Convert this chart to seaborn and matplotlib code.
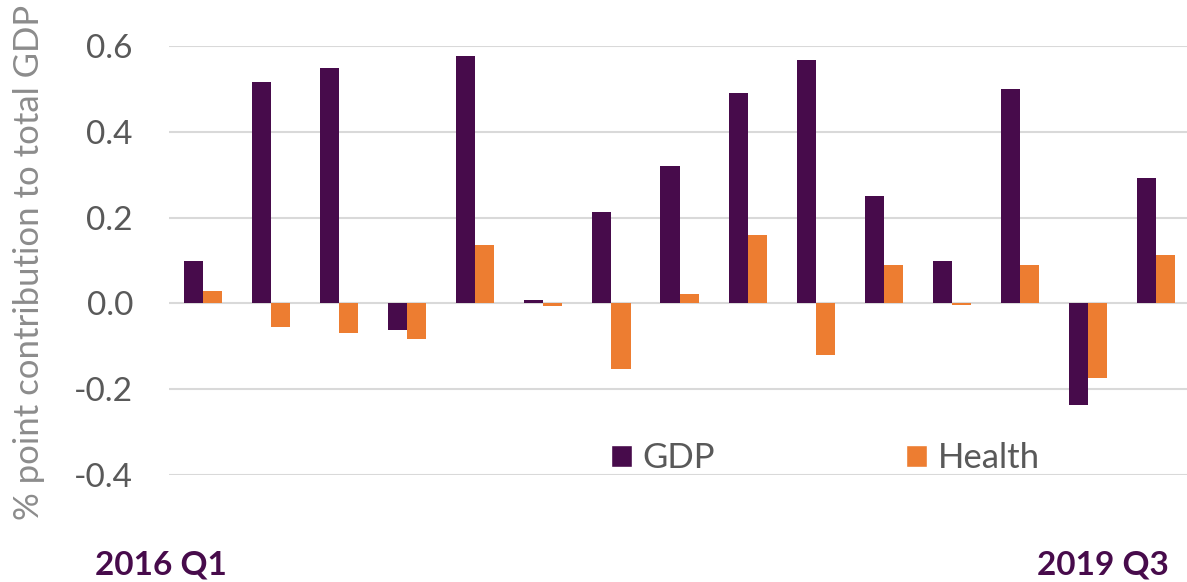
import matplotlib
matplotlib.use('Agg')
import matplotlib.pyplot as plt
import seaborn as sns
import pandas as pd
from matplotlib.patches import Patch

# dados
quarters = ['2016 Q1', '2016 Q2', '2016 Q3', '2016 Q4', '2017 Q1', '2017 Q2', '2017 Q3', '2017 Q4',
            '2018 Q1', '2018 Q2', '2018 Q3', '2018 Q4', '2019 Q1', '2019 Q2', '2019 Q3']
gdp = [0.10, 0.515, 0.548, -0.063, 0.576, 0.008, 0.212, 0.320, 0.490, 0.567, 0.250, 0.100, 0.500, -0.236, 0.292]
health = [0.030, -0.054, -0.068, -0.084, 0.135, -0.005, -0.154, 0.021, 0.159, -0.121, 0.089, -0.003, 0.089, -0.173, 0.112]
series = ['GDP', 'Health']
colors = ['#470b4b', '#ed7d31']
end_labels = ['2016 Q1', '2019 Q3']
yticks = [-0.4, -0.2, 0.0, 0.2, 0.4, 0.6]

df = pd.DataFrame({
    'quarter': quarters * 2,
    'value': gdp + health,
    'series': ['GDP'] * len(gdp) + ['Health'] * len(health),
})

sns.set_style('white')
plt.rcParams['font.family'] = ['Lato', 'DejaVu Sans']

W, H = 1187, 582
fig = plt.figure(figsize=(W / 100, H / 100), dpi=100)
ax = fig.add_axes([169 / W, 1 - 475 / H, (W - 169) / W, (475 - 46) / H])

sns.barplot(data=df, x='quarter', y='value', hue='series', hue_order=series,
            palette=colors, width=0.56, gap=0, saturation=1, linewidth=0,
            ax=ax, legend=False)

ax.set_xlim(-0.5, 14.455)
ax.set_ylim(-0.4, 0.6)
ax.set_yticks(yticks)
ax.set_yticklabels([f'{v:.1f}' for v in yticks])
ax.yaxis.grid(True, color='#d9d9d9', linewidth=1.5)
ax.set_axisbelow(True)
for s in ax.spines.values():
    s.set_visible(False)
ax.tick_params(axis='y', length=0, pad=26, labelsize=24, labelcolor='#595959')
ax.set_xticks([])
ax.set_xlabel('')
ax.set_ylabel('% point contribution to total GDP', fontsize=25, color='#8c8c8c')
ax.yaxis.set_label_coords(-0.122, 0.4965)

handles = [Patch(facecolor=c, label=s) for c, s in zip(colors, series)]
ax.legend(handles=handles, loc='center', bbox_to_anchor=(0.645, 0.04), ncol=2,
          frameon=False, fontsize=25, handlelength=0.6, handleheight=0.6,
          handletextpad=0.32, columnspacing=5.5, labelcolor='#595959')

fig.text(161 / W, 1 - 565 / H, end_labels[0], ha='center', va='center',
         fontsize=24, fontweight='bold', color='#470b4b')
fig.text(1103 / W, 1 - 565 / H, end_labels[1], ha='center', va='center',
         fontsize=24, fontweight='bold', color='#470b4b')

fig.savefig('out.png', dpi=100)
